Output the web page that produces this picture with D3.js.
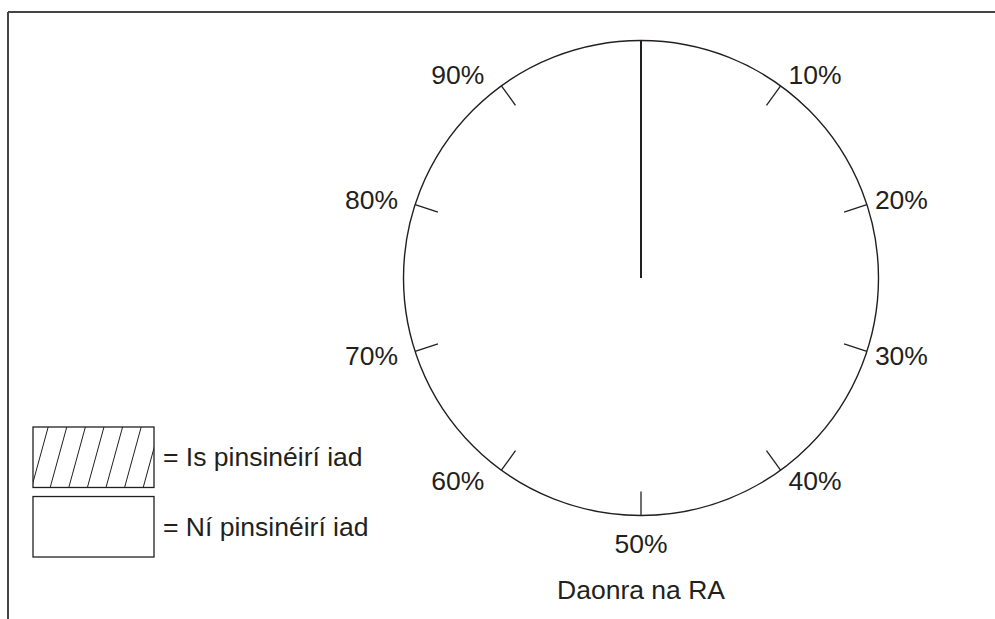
<!DOCTYPE html>
<html>
<head>
<meta charset="utf-8">
<script src="https://cdn.jsdelivr.net/npm/d3@7"></script>
<style>
  body { margin: 0; background: #fff; }
  text { font-family: "Liberation Sans", Arial, sans-serif; fill: #231f20; }
</style>
</head>
<body>
<div id="container"></div>
<script>
// tick values round the dial (share of the pie)
var tickValues = [10, 20, 30, 40, 50, 60, 70, 80, 90];
var tickLabels = ["10%", "20%", "30%", "40%", "50%", "60%", "70%", "80%", "90%"];
// legend
var legendLabels = ["= Is pinsinéirí iad", "= Ní pinsinéirí iad"];
var legendHatched = [true, false];
// share of pensioners (no slice filled in, only the start radius)
var pensionerShare = [0];
var axisTitle = "Daonra na RA";

var width = 995,
    height = 619,
    fontSize = 26.5;

var svg = d3.select("#container")
  .append("svg")
  .attr("width", width)
  .attr("height", height);

// frame: top and left rule
svg.append("line")
  .attr("x1", 8).attr("y1", 12).attr("x2", width).attr("y2", 12)
  .attr("stroke", "#444").attr("stroke-width", 2);
svg.append("line")
  .attr("x1", 8).attr("y1", 12).attr("x2", 8).attr("y2", height)
  .attr("stroke", "#444").attr("stroke-width", 2);

var cx = 641, cy = 278, r = 237.5, tickLen = 24;

var angle = d3.scaleLinear()
  .domain([0, 100])
  .range([0, 2 * Math.PI]);

var g = svg.append("g")
  .attr("transform", "translate(" + cx + "," + cy + ")");

g.append("circle")
  .attr("r", r)
  .attr("fill", "none")
  .attr("stroke", "#231f20")
  .attr("stroke-width", 1.4);

// start radius
g.selectAll("line.start")
  .data(pensionerShare)
  .enter()
  .append("line")
  .attr("class", "start")
  .attr("x1", 0).attr("y1", 0)
  .attr("x2", function(d) { return r * Math.sin(angle(d)); })
  .attr("y2", function(d) { return -r * Math.cos(angle(d)); })
  .attr("stroke", "#231f20")
  .attr("stroke-width", 2);

g.selectAll("line.tick")
  .data(tickValues)
  .enter()
  .append("line")
  .attr("class", "tick")
  .attr("x1", function(d) { return r * Math.sin(angle(d)); })
  .attr("y1", function(d) { return -r * Math.cos(angle(d)); })
  .attr("x2", function(d) { return (r - tickLen) * Math.sin(angle(d)); })
  .attr("y2", function(d) { return -(r - tickLen) * Math.cos(angle(d)); })
  .attr("stroke", "#231f20")
  .attr("stroke-width", 1.3);

g.selectAll("text.tick")
  .data(tickValues)
  .enter()
  .append("text")
  .attr("class", "tick")
  .text(function(d, i) { return tickLabels[i]; })
  .attr("font-size", fontSize)
  .attr("dominant-baseline", "central")
  .attr("text-anchor", function(d) {
    return d === 50 ? "middle" : (d < 50 ? "start" : "end");
  })
  .attr("x", function(d) {
    var x = r * Math.sin(angle(d));
    if (d === 50) return x;
    return d < 50 ? x + 8 : x - 17;
  })
  .attr("y", function(d) {
    var y = -r * Math.cos(angle(d));
    if (d === 50) return y + 28;
    return y - 14 * Math.cos(angle(d));
  });

svg.append("text")
  .text(axisTitle)
  .attr("x", cx)
  .attr("y", 590)
  .attr("font-size", fontSize)
  .attr("text-anchor", "middle")
  .attr("dominant-baseline", "central");

// legend
var bx = 33, bw = 121, bh = 61;
var legendY = d3.scaleBand()
  .domain(legendLabels)
  .range([427, 557])
  .paddingInner(0.13);

svg.append("clipPath")
  .attr("id", "hatchClip")
  .append("rect")
  .attr("x", bx).attr("y", legendY(legendLabels[0]))
  .attr("width", bw).attr("height", legendY.bandwidth());

var lg = svg.selectAll("g.legend")
  .data(legendLabels)
  .enter()
  .append("g")
  .attr("class", "legend");

lg.each(function(d, i) {
  var sel = d3.select(this);
  var y0 = legendY(d), h = legendY.bandwidth();
  if (legendHatched[i]) {
    var hatch = sel.append("g").attr("clip-path", "url(#hatchClip)");
    var step = 18.6, slant = 17;
    for (var x = bx - 20; x < bx + bw + 20; x += step) {
      hatch.append("line")
        .attr("x1", x).attr("y1", y0 + h)
        .attr("x2", x + slant * h / 62).attr("y2", y0)
        .attr("stroke", "#231f20")
        .attr("stroke-width", 1);
    }
  }
  sel.append("rect")
    .attr("x", bx).attr("y", y0)
    .attr("width", bw).attr("height", h)
    .attr("fill", "none")
    .attr("stroke", "#231f20")
    .attr("stroke-width", 1.3);
  sel.append("text")
    .text(d)
    .attr("x", bx + bw + 9)
    .attr("y", y0 + h / 2)
    .attr("font-size", fontSize)
    .attr("dominant-baseline", "central");
});
</script>
</body>
</html>
